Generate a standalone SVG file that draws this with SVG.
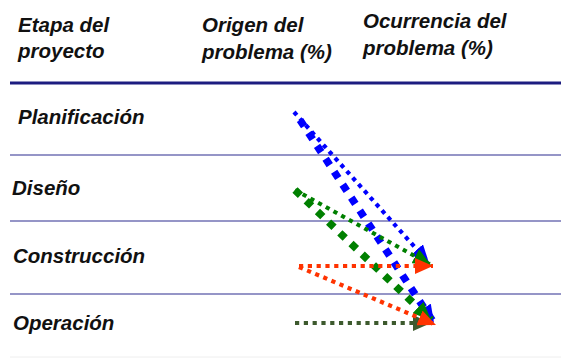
<svg xmlns="http://www.w3.org/2000/svg" width="561" height="358" viewBox="0 0 561 358">
<style>
text{font-family:"Liberation Sans",Arial,sans-serif;font-style:italic;font-weight:bold;font-size:20.5px;fill:#111}
.sep{stroke:#7272b4;stroke-width:1.6}
.thin{fill:none;stroke-width:4.2;stroke-dasharray:4.2 4.6}
.thick{fill:none;stroke-width:7.5;stroke-dasharray:7.5 8}
</style>
<defs>
<marker id="ab" markerUnits="userSpaceOnUse" markerWidth="20" markerHeight="16" refX="18" refY="8" orient="auto"><path d="M0,0 L18,8 L0,16 z" fill="#0000ff"/></marker>
<marker id="ag" markerUnits="userSpaceOnUse" markerWidth="20" markerHeight="16" refX="18" refY="8" orient="auto"><path d="M0,0 L18,8 L0,16 z" fill="#008000"/></marker>
<marker id="ar" markerUnits="userSpaceOnUse" markerWidth="20" markerHeight="16" refX="18" refY="8" orient="auto"><path d="M0,0 L18,8 L0,16 z" fill="#ff3300"/></marker>
<marker id="ad" markerUnits="userSpaceOnUse" markerWidth="20" markerHeight="16" refX="18" refY="8" orient="auto"><path d="M0,0 L18,8 L0,16 z" fill="#3d5a2e"/></marker>
</defs>
<rect width="561" height="358" fill="#fff"/>
<g id="header">
<text x="18" y="32">Etapa del</text>
<text x="18" y="58">proyecto</text>
<text x="202" y="32">Origen del</text>
<text x="202" y="59">problema (%)</text>
<text x="363" y="28">Ocurrencia del</text>
<text x="363" y="55">problema (%)</text>
<line x1="10" y1="83" x2="561" y2="83" stroke="#1c1c80" stroke-width="3"/>
</g>
<g id="row-planificacion"><text x="18" y="124">Planificación</text></g>
<g id="row-diseno"><line class="sep" x1="10" y1="155" x2="561" y2="155"/><text x="12" y="195">Diseño</text></g>
<g id="row-construccion"><line class="sep" x1="10" y1="221" x2="561" y2="221"/><text x="13" y="263">Construcción</text></g>
<g id="row-operacion"><line class="sep" x1="10" y1="294" x2="561" y2="294"/><text x="13" y="330">Operación</text></g>
<line x1="10" y1="357" x2="561" y2="357" stroke="#eeeeee" stroke-width="1"/>
<g id="connectors">
<path class="thin" stroke="#0000ff" d="M294,112 L429,263" marker-end="url(#ab)"/>
<path class="thick" stroke="#0000ff" d="M300,120 L434,323" marker-end="url(#ab)"/>
<path class="thin" stroke="#008000" d="M295,190 L431,265" marker-end="url(#ag)"/>
<path class="thick" stroke="#008000" d="M295,190 L431,320" marker-end="url(#ag)"/>
<path class="thin" stroke="#3d5a2e" d="M295,323 L431,323" marker-end="url(#ad)"/>
<path class="thin" stroke="#ff3300" d="M299,266 L433,266" marker-end="url(#ar)"/>
<path class="thin" stroke="#ff3300" d="M299,267 L436,325" marker-end="url(#ar)"/>
</g>
</svg>
